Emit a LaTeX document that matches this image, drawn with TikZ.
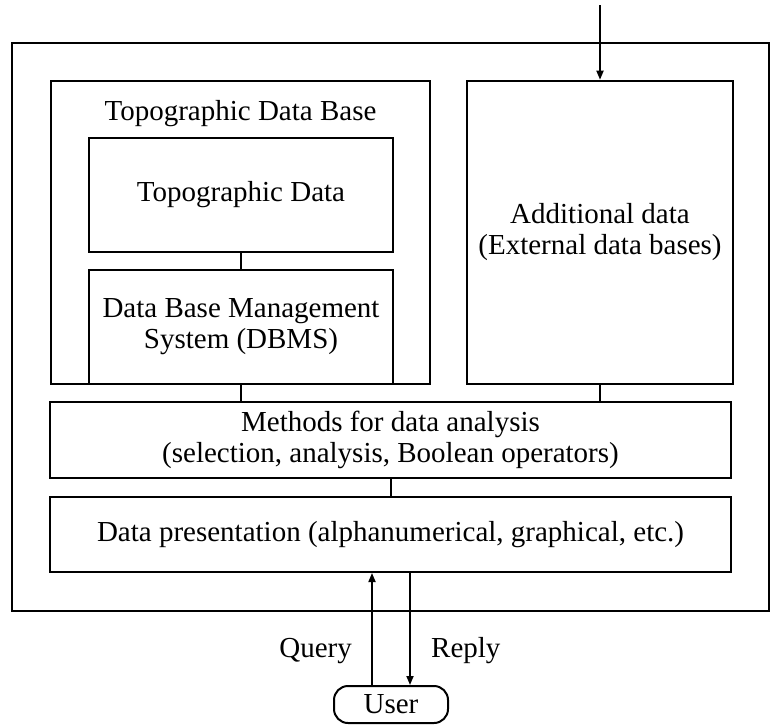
\documentclass[tikz,border=0pt]{standalone}
\usepackage{fontspec}
\setmainfont{Liberation Serif}
\usetikzlibrary{arrows.meta}
\begin{document}
\begin{tikzpicture}[x=1pt,y=-1pt,
  font=\fontsize{29}{31}\selectfont,
  boxframe/.style={draw, line width=2pt, inner sep=0pt, align=center},
  link/.style={line width=2pt},
  flow/.style={line width=1.7pt, -{Triangle[length=9pt,width=7pt]}},
  lbl/.style={inner sep=0pt}]
  \useasboundingbox (0,0) rectangle (770,726);

  % system frame
  \node[boxframe, minimum width=757pt, minimum height=568pt] (sys) at (390.5,326.7) {};

  % topographic data base and its parts
  \node[boxframe, minimum width=379pt, minimum height=303.3pt] (tdb) at (240.5,232.35) {};
  \node[lbl, anchor=base] (tdbtitle) at (240.5,120) {Topographic Data Base};
  \node[boxframe, minimum width=304pt, minimum height=114.3pt] (td) at (241,194.85) {Topographic Data};
  \node[boxframe, minimum width=304pt, minimum height=114pt] (dbms) at (241,327) {Data Base Management\\System (DBMS)};

  % external data
  \node[boxframe, minimum width=266pt, minimum height=303.3pt] (add) at (600,232.35) {Additional data\\(External data bases)};

  % processing layers
  \node[boxframe, minimum width=681pt, minimum height=76pt] (methods) at (390.5,440) {Methods for data analysis\\(selection, analysis, Boolean operators)};
  \node[boxframe, minimum width=681pt, minimum height=75pt] (pres) at (390.5,534.5) {Data presentation (alphanumerical, graphical, etc.)};

  % user
  \node[boxframe, rounded corners=14pt, minimum width=114pt, minimum height=37pt] (user) at (391,704.5) {User};

  % internal links
  \draw[link] (td.south) -- (dbms.north);
  \draw[link] (tdb.south) -- (tdb.south |- methods.north);
  \draw[link] (add.south) -- (add.south |- methods.north);
  \draw[link] (methods.south) -- (methods.south |- pres.north);

  % external input
  \coordinate (feed) at (600,5);
  \draw[flow] (feed) -- (add.north);

  % query / reply
  \coordinate (qbot) at ([xshift=-19pt]user.north);
  \coordinate (rbot) at ([xshift=19pt]user.north);
  \draw[flow] (qbot) -- (qbot |- pres.south);
  \draw[flow] (rbot |- pres.south) -- (rbot);
  \node[lbl, anchor=base east] (qlabel) at (352,657) {Query};
  \node[lbl, anchor=base west] (rlabel) at (431,657) {Reply};
\end{tikzpicture}
\end{document}
